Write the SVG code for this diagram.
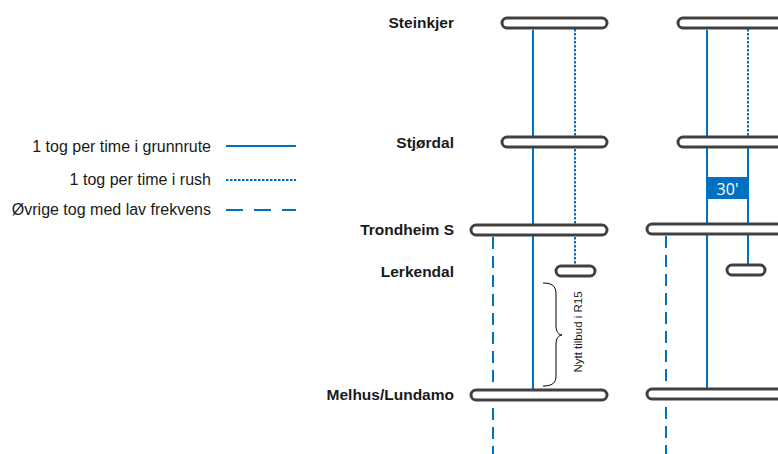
<svg xmlns="http://www.w3.org/2000/svg" width="778" height="454" viewBox="0 0 778 454">
<style>
.bar{fill:#fff;stroke:#404040;stroke-width:3}
.lbl{font-family:"Liberation Sans",Arial,sans-serif;font-size:15.5px;font-weight:bold;fill:#1a1a1a;text-anchor:end}
.leg{font-family:"Liberation Sans",Arial,sans-serif;font-size:16px;fill:#1a1a1a;text-anchor:end}
.solid{stroke:#0070C0;stroke-width:2;fill:none}
.dot{stroke:#0070C0;stroke-width:2;fill:none;stroke-dasharray:2.5 1.5}
.dash{stroke:#0070C0;stroke-width:2;fill:none;stroke-dasharray:12 7}
</style>
<rect width="778" height="454" fill="#fff"/>
<g id="legend">
<text class="leg" x="211" y="152">1 tog per time i grunnrute</text>
<line class="solid" x1="226" y1="146" x2="296" y2="146"/>
<text class="leg" x="211" y="185">1 tog per time i rush</text>
<line class="dot" x1="226" y1="180" x2="296" y2="180"/>
<text class="leg" x="211" y="215">Øvrige tog med lav frekvens</text>
<line class="solid" x1="226" y1="210" x2="296" y2="210" stroke-dasharray="17 11"/>
</g>
<g id="connectors">
<line class="solid" x1="533" y1="30" x2="533" y2="390"/>
<line class="dot" x1="575" y1="29" x2="575" y2="266"/>
<line class="dash" x1="493" y1="237" x2="493" y2="454"/>
<line class="solid" x1="707" y1="30" x2="707" y2="389"/>
<line class="dot" x1="748" y1="29" x2="748" y2="137"/>
<line class="solid" x1="748" y1="147" x2="748" y2="265"/>
<line class="dash" x1="666" y1="236" x2="666" y2="454"/>
</g>
<g id="freq30">
<rect x="707" y="177" width="41" height="22" fill="#0070C0"/>
<text x="727.5" y="194.5" font-family="'Open Sans','Liberation Sans',sans-serif" font-size="16" fill="#fff" text-anchor="middle">30'</text>
</g>
<g id="steinkjer">
<text class="lbl" x="454" y="28">Steinkjer</text>
<rect class="bar" x="502" y="18" width="105" height="10" rx="5"/>
<rect class="bar" x="678" y="18" width="110" height="10" rx="5"/>
</g>
<g id="stjordal">
<text class="lbl" x="454" y="148">Stjørdal</text>
<rect class="bar" x="502" y="137" width="105" height="10" rx="5"/>
<rect class="bar" x="678" y="137" width="110" height="10" rx="5"/>
</g>
<g id="trondheim">
<text class="lbl" x="454" y="235">Trondheim S</text>
<rect class="bar" x="471" y="225" width="136" height="10" rx="5"/>
<rect class="bar" x="647" y="224" width="140" height="10" rx="5"/>
</g>
<g id="lerkendal">
<text class="lbl" x="454" y="277">Lerkendal</text>
<rect class="bar" x="556" y="266" width="39" height="10" rx="5"/>
<rect class="bar" x="727" y="265" width="38" height="10" rx="5"/>
</g>
<g id="melhus">
<text class="lbl" x="454" y="400">Melhus/Lundamo</text>
<rect class="bar" x="471" y="390" width="136" height="10" rx="5"/>
<rect class="bar" x="647" y="389" width="140" height="10" rx="5"/>
</g>
<g id="r15note">
<path d="M543,283 C552,283 556,286 556,294 L556,326 C556,332 559,335 562,335 C559,335 556,338 556,344 L556,376 C556,383 552,386 543,386" fill="none" stroke="#000" stroke-width="1"/>
<text transform="translate(582,332) rotate(-90)" font-family="'Liberation Sans',Arial,sans-serif" font-size="11.5" fill="#1a1a1a" text-anchor="middle">Nytt tilbud i R15</text>
</g>
</svg>
